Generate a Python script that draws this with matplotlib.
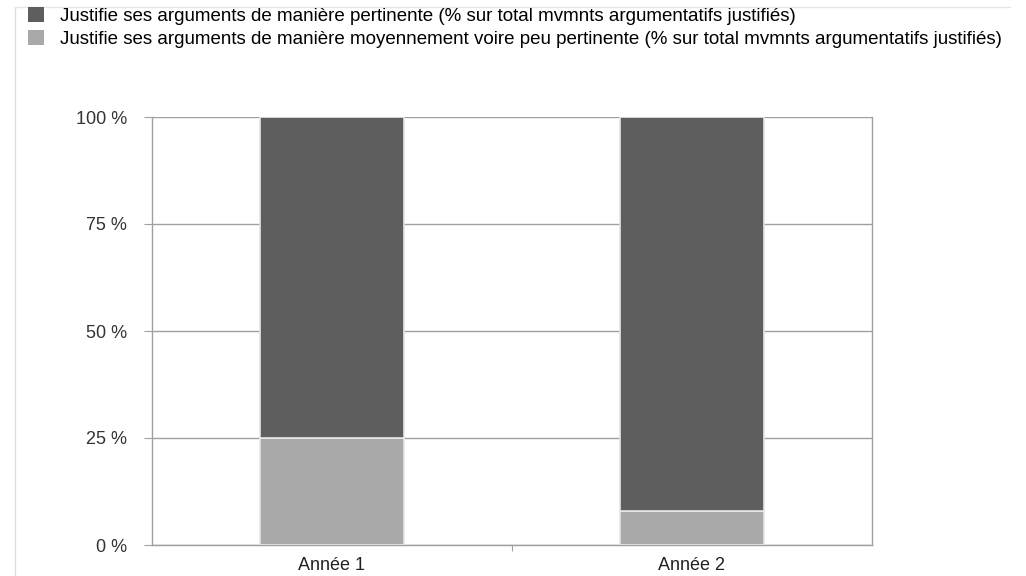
import numpy as np
import matplotlib.pyplot as plt
from matplotlib.lines import Line2D
from matplotlib.patches import Patch

plt.rcParams['font.family'] = ['Liberation Sans', 'DejaVu Sans']

# Data
categories = ['Année 1', 'Année 2']
pertinente = [75, 92]
peu_pertinente = [25, 8]
series_labels = [
    'Justifie ses arguments de manière pertinente (% sur total mvmnts argumentatifs justifiés)',
    'Justifie ses arguments de manière moyennement voire peu pertinente (% sur total mvmnts argumentatifs justifiés)',
]
yticks = [0, 25, 50, 75, 100]
ytick_labels = ['0 %', '25 %', '50 %', '75 %', '100 %']

dark = '#5e5e5e'
light = '#a9a9a9'
grid_col = '#a0a0a0'

fig = plt.figure(figsize=(10.26, 5.76), dpi=100)
ax = fig.add_axes([152 / 1026, 1 - 545 / 576, 720 / 1026, 428 / 576])

x = np.arange(len(categories))
ax.bar(x, peu_pertinente, width=0.4, color=light, edgecolor='#e6e6e6', linewidth=1.2, zorder=3)
ax.bar(x, pertinente, width=0.4, bottom=peu_pertinente, color=dark, edgecolor='#e6e6e6',
       linewidth=1.2, zorder=3)

ax.set_xlim(-0.5, 1.5)
ax.set_ylim(0, 100)
ax.set_yticks(yticks)
ax.set_yticklabels(ytick_labels, fontsize=13, color='#333333')
ax.yaxis.grid(True, color=grid_col, linewidth=1)
ax.set_axisbelow(True)

# categories centred, tick mark between them
ax.set_xticks([0.5])
ax.set_xticklabels([''])
ax.set_xticks(x, minor=True)
ax.set_xticklabels(categories, minor=True, fontsize=13, color='#222222')
ax.tick_params(axis='x', which='minor', length=0, pad=9)
ax.tick_params(axis='x', which='major', length=4, color=grid_col)
ax.tick_params(axis='y', length=6, color=grid_col, pad=12)

for side in ['left', 'right', 'bottom']:
    ax.spines[side].set_color(grid_col)
    ax.spines[side].set_linewidth(1)
ax.spines['top'].set_visible(False)

handles = [Patch(facecolor=dark, edgecolor='none'), Patch(facecolor=light, edgecolor='none')]
fig.legend(handles, series_labels, loc='upper left', bbox_to_anchor=(24 / 1026, 1 - 3 / 576),
           frameon=False, handlelength=0.85, handleheight=0.85,
           handletextpad=0.85, labelspacing=0.3, borderaxespad=0, borderpad=0.2,
           prop={'size': 13.5})

# light frame around the figure area
fig.add_artist(Line2D([15 / 1026, 15 / 1026], [0, 1 - 7 / 576], color='#dddddd', linewidth=1))
fig.add_artist(Line2D([15 / 1026, 1010 / 1026], [1 - 7 / 576, 1 - 7 / 576], color='#e6e6e6', linewidth=1))

fig.savefig('out.png', dpi=100)
